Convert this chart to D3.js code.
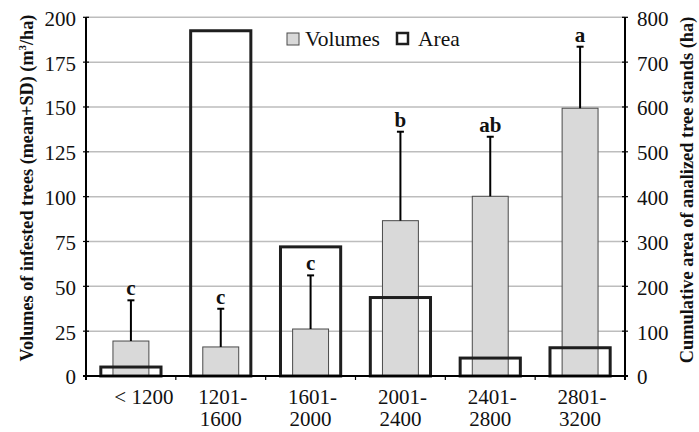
<!DOCTYPE html>
<html>
<head>
<meta charset="utf-8">
<script src="https://cdn.jsdelivr.net/npm/d3@7"></script>
<style>
  html, body { margin: 0; padding: 0; background: #fff; }
  svg { display: block; }
  text { font-family: "Liberation Serif", "Times New Roman", serif; fill: #111; }
</style>
</head>
<body>
<svg id="chart" width="699" height="432"></svg>
<script>
// ---- data ----
const categories = ["< 1200", "1201-1600", "1601-2000", "2001-2400", "2401-2800", "2801-3200"];
const volumes = [19.5, 16.2, 26.2, 86.6, 100.2, 149.3];      // m3/ha, mean
const volumeSD = [22.7, 21.3, 29.9, 49.6, 33.2, 34.3];       // SD
const areas = [20, 770, 288, 175, 40, 63];                    // ha
const letters = ["c", "c", "c", "b", "ab", "a"];
const leftTicks = [0, 25, 50, 75, 100, 125, 150, 175, 200];
const rightTicks = [0, 100, 200, 300, 400, 500, 600, 700, 800];

// ---- layout ----
const W = 699, H = 432;
const L = 86, R = 625, T = 17.3, B = 376;
const svg = d3.select("#chart");

const x = d3.scaleBand().domain(categories).range([L, R]).padding(0);
const yL = d3.scaleLinear().domain([0, 200]).range([B, T]);
const yR = d3.scaleLinear().domain([0, 800]).range([B, T]);

// gridlines
svg.append("g").selectAll("line").data(leftTicks.filter(d => d > 0)).join("line")
  .attr("x1", L).attr("x2", R)
  .attr("y1", d => yL(d)).attr("y2", d => yL(d))
  .attr("stroke", "#bdbdbd").attr("stroke-width", 1.5);

// volume bars
const volW = x.bandwidth() * 0.40;
svg.append("g").selectAll("rect").data(categories).join("rect")
  .attr("x", d => x(d) + (x.bandwidth() - volW) / 2)
  .attr("width", volW)
  .attr("y", (d, i) => yL(volumes[i]))
  .attr("height", (d, i) => B - yL(volumes[i]))
  .attr("fill", "#d9d9d9").attr("stroke", "#4a4a4a").attr("stroke-width", 1);

// area bars (outline)
const areaW = x.bandwidth() * 0.67;
svg.append("g").selectAll("rect").data(categories).join("rect")
  .attr("x", d => x(d) + (x.bandwidth() - areaW) / 2)
  .attr("width", areaW)
  .attr("y", (d, i) => yR(areas[i]))
  .attr("height", (d, i) => B - yR(areas[i]))
  .attr("fill", "none").attr("stroke", "#1e1e1e").attr("stroke-width", 3);

// error bars
const eg = svg.append("g");
categories.forEach((c, i) => {
  const cx = x(c) + x.bandwidth() / 2;
  const top = yL(volumes[i] + volumeSD[i]);
  eg.append("line").attr("x1", cx).attr("x2", cx)
    .attr("y1", yL(volumes[i])).attr("y2", top)
    .attr("stroke", "#000").attr("stroke-width", 2);
  eg.append("line").attr("x1", cx - 3.5).attr("x2", cx + 3.5)
    .attr("y1", top).attr("y2", top)
    .attr("stroke", "#000").attr("stroke-width", 2);
  eg.append("text").attr("x", cx).attr("y", top - 5)
    .attr("text-anchor", "middle")
    .attr("font-size", 21).attr("font-weight", "bold")
    .text(letters[i]);
});

// left axis
const axL = svg.append("g").attr("transform", `translate(${L},0)`)
  .call(d3.axisLeft(yL).tickValues(leftTicks).tickSize(0).tickPadding(10));
axL.select(".domain").remove();
axL.selectAll("text").attr("font-size", 21).attr("font-family", "Liberation Serif").attr("fill", "#111").attr("dy", "0.38em");
svg.append("g").selectAll("line").data(leftTicks).join("line")
  .attr("x1", L - 3).attr("x2", L + 3)
  .attr("y1", d => yL(d)).attr("y2", d => yL(d))
  .attr("stroke", "#000").attr("stroke-width", 1.2);
svg.append("line").attr("x1", L).attr("x2", L).attr("y1", T).attr("y2", B + 4)
  .attr("stroke", "#000").attr("stroke-width", 2);

// right axis
const axR = svg.append("g").attr("transform", `translate(${R},0)`)
  .call(d3.axisRight(yR).tickValues(rightTicks).tickSize(0).tickPadding(12));
axR.select(".domain").remove();
axR.selectAll("text").attr("font-size", 21).attr("font-family", "Liberation Serif").attr("fill", "#111").attr("dy", "0.38em");
svg.append("g").selectAll("line").data(rightTicks).join("line")
  .attr("x1", R - 3).attr("x2", R + 3)
  .attr("y1", d => yR(d)).attr("y2", d => yR(d))
  .attr("stroke", "#000").attr("stroke-width", 1.2);
svg.append("line").attr("x1", R).attr("x2", R).attr("y1", T).attr("y2", B + 4)
  .attr("stroke", "#000").attr("stroke-width", 2);

// bottom axis
svg.append("line").attr("x1", L - 3).attr("x2", R + 3).attr("y1", B).attr("y2", B)
  .attr("stroke", "#000").attr("stroke-width", 2);
const bounds = categories.map(c => x(c)).concat([x(categories[categories.length - 1]) + x.bandwidth()]);
svg.append("g").selectAll("line").data(bounds).join("line")
  .attr("x1", d => d).attr("x2", d => d).attr("y1", B).attr("y2", B + 4)
  .attr("stroke", "#000").attr("stroke-width", 1.2);

// category labels (wrapped after the hyphen)
const xl = svg.append("g");
categories.forEach((c, i) => {
  const cx = x(c) + x.bandwidth() / 2;
  const lines = c.includes("-") ? [c.slice(0, c.indexOf("-") + 1), c.slice(c.indexOf("-") + 1)] : [c];
  const dx = lines.length === 1 ? 13 : 2;
  lines.forEach((ln, j) => {
    xl.append("text").attr("x", cx + (j === 0 ? dx : 0)).attr("y", 404 + j * 22)
      .attr("text-anchor", "middle").attr("font-size", 21).text(ln);
  });
});

// axis titles
const lt = svg.append("text")
  .attr("transform", `translate(33,188) rotate(-90)`)
  .attr("text-anchor", "middle").attr("font-size", 18.2).attr("font-weight", "bold");
lt.append("tspan").text("Volumes of infested trees (mean+SD) (m");
lt.append("tspan").attr("font-size", 11).attr("dy", -7).text("3");
lt.append("tspan").attr("dy", 7).text("/ha)");

svg.append("text")
  .attr("transform", `translate(693,190) rotate(-90)`)
  .attr("text-anchor", "middle").attr("font-size", 18.4).attr("font-weight", "bold")
  .text("Cumulative area of analized tree stands (ha)");

// legend
const lg = svg.append("g");
lg.append("rect").attr("x", 287).attr("y", 33).attr("width", 12).attr("height", 12)
  .attr("fill", "#d9d9d9").attr("stroke", "#4a4a4a").attr("stroke-width", 1);
lg.append("text").attr("x", 305).attr("y", 46).attr("font-size", 21.5).text("Volumes");
lg.append("rect").attr("x", 397).attr("y", 33).attr("width", 11).attr("height", 11)
  .attr("fill", "none").attr("stroke", "#1e1e1e").attr("stroke-width", 2.5);
lg.append("text").attr("x", 418).attr("y", 46).attr("font-size", 21.5).text("Area");
</script>
</body>
</html>
